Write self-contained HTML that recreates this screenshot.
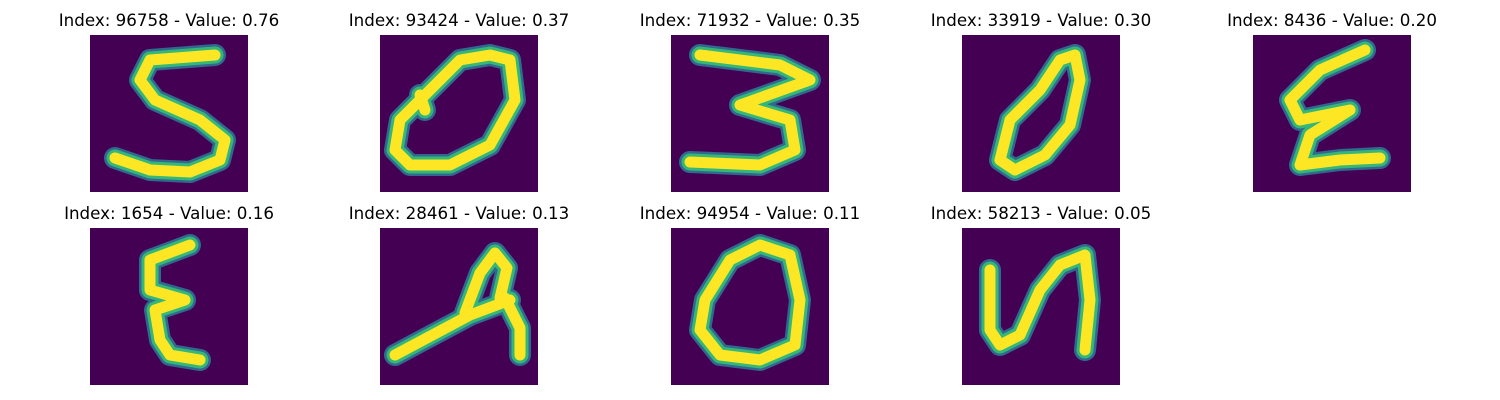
<!DOCTYPE html>
<html><head><meta charset="utf-8"><style>
body{margin:0;background:#fff;}
svg{display:block;}
text{font-family:"DejaVu Sans","Liberation Sans",sans-serif;font-size:16.7px;fill:#000;}
</style></head><body>
<svg id="chart" width="1500" height="400"></svg>
<script>
const indices=[96758,93424,71932,33919,8436,1654,28461,94954,58213];
const values=[0.76,0.37,0.35,0.30,0.20,0.16,0.13,0.11,0.05];
const strokes=[
 [[[125,20],[60,25],[50,45],[65,65],[110,85],[135,105],[130,125],[100,137],[60,135],[25,123]]],
 [[[110,20],[80,25],[50,55],[20,85],[15,115],[30,130],[70,130],[110,110],[135,65],[130,25],[110,20]],[[40,60],[45,75]]],
 [[[29,20],[109,30],[139,45],[69,70],[119,85],[124,115],[89,130],[19,127]]],
 [[[113,20],[98,25],[78,55],[48,85],[38,125],[53,135],[83,120],[108,90],[118,45],[113,20]]],
 [[[112,15],[67,35],[37,65],[47,85],[97,75],[57,100],[47,130],[87,125],[127,123]]],
 [[[100,17],[60,32],[60,62],[95,72],[65,82],[70,112],[80,127],[110,132]]],
 [[[15,127],[90,87],[130,72]],[[85,85],[100,45],[115,25],[127,40],[120,70]],[[125,70],[140,100],[140,127]]],
 [[[89,17],[59,32],[34,72],[29,102],[49,127],[89,132],[124,117],[129,72],[119,27],[89,17]]],
 [[[28,42],[28,102],[38,117],[58,107],[78,62],[98,37],[123,27],[128,72],[123,122]]]
];
const svg=document.getElementById('chart');
const NS='http://www.w3.org/2000/svg';
const colX=[90,380,671,962,1253], rowY=[35,228], W=158,H=157;
for(let i=0;i<indices.length;i++){
 const x0=colX[i%5], y0=rowY[Math.floor(i/5)];
 const g=document.createElementNS(NS,'g');
 
 
 const t=document.createElementNS(NS,'text');
 t.setAttribute('x',x0+W/2);t.setAttribute('y',y0-9);t.setAttribute('text-anchor','middle');
 t.textContent='Index: '+indices[i]+' - Value: '+values[i].toFixed(2);
 
 
 g.appendChild(t);
 const r=document.createElementNS(NS,'rect');
 r.setAttribute('x',x0);r.setAttribute('y',y0);r.setAttribute('width',W);r.setAttribute('height',H);r.setAttribute('fill','#440154');
 
 
 g.appendChild(r);
 [['#31688e',22],['#35b779',17],['#fde725',11]].forEach(([c,w])=>{
  strokes[i].forEach(s=>{
   const p=document.createElementNS(NS,'polyline');
   p.setAttribute('points',s.map(q=>(x0+q[0])+','+(y0+q[1])).join(' '));
   p.setAttribute('fill','none');p.setAttribute('stroke',c);p.setAttribute('stroke-width',w);
   p.setAttribute('stroke-linejoin','round');p.setAttribute('stroke-linecap','round');
   
   
   g.appendChild(p);
  });
 });
 svg.appendChild(g);
}
</script>
</body></html>
